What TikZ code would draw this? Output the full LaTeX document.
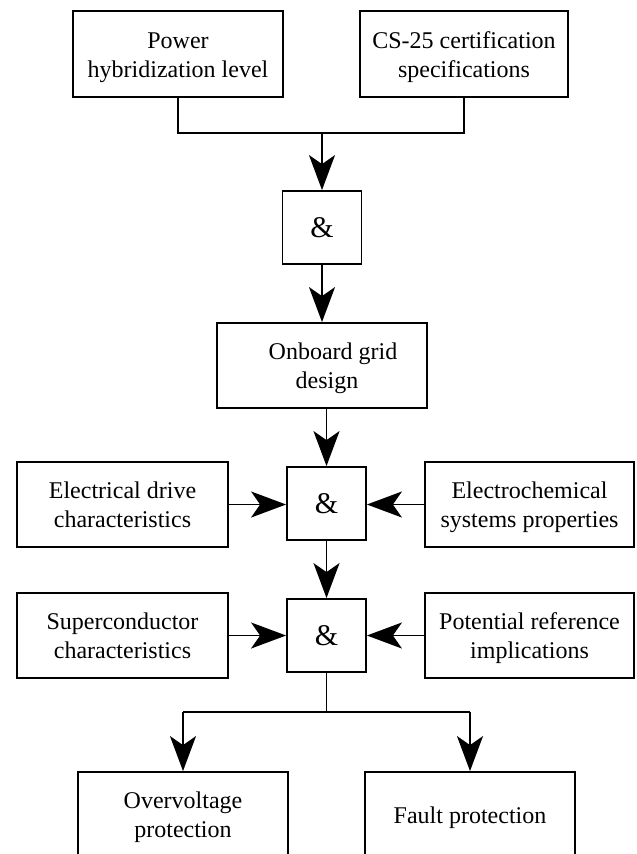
\documentclass[tikz,border=0pt]{standalone}
\usepackage{fontspec}
\setmainfont{Liberation Serif}
\usetikzlibrary{arrows.meta}
\newcommand\boxtext[1]{\raisebox{-3pt}[\height][\depth]{\begin{tabular}{@{}c@{}}#1\end{tabular}}}
\begin{document}
\begin{tikzpicture}[x=1pt,y=-1pt,
  box/.style={draw,line width=1.8pt,rectangle,inner sep=0pt,
    font=\fontsize{24}{29}\selectfont},
  andbox/.style={draw,line width=1.8pt,rectangle,inner sep=0pt,
    minimum width=79pt,minimum height=73pt,font=\fontsize{30}{32}\selectfont},
  link/.style={line width=1.8pt},
  arr/.style={line width=1.8pt,-{Stealth[length=35pt,width=26pt,inset=9pt]}}]
\useasboundingbox (0,0) rectangle (637,854);
\clip (0,0) rectangle (637,854);
% top inputs
\node[box,minimum width=210pt,minimum height=86pt] (P) at (178,54) {\boxtext{Power\\hybridization level}};
\node[box,minimum width=208pt,minimum height=86pt] (C) at (464,54) {\boxtext{CS-25 certification\\specifications}};
\coordinate (J) at (322,133);
\node[andbox] (A1) at (322,227.5) {\&};
\node[box,minimum width=210pt,minimum height=85pt] (O) at (322,365.5) {\boxtext{\hspace*{22pt}Onboard grid\\\hspace*{10pt}design}};
\node[andbox] (A2) at (326.5,503.5) {\&};
\node[box,minimum width=211pt,minimum height=85pt] (E) at (122.5,504.5) {\boxtext{Electrical drive\\characteristics}};
\node[box,minimum width=209pt,minimum height=85pt] (EC) at (529.5,504.5) {\boxtext{Electrochemical\\systems properties}};
\node[andbox] (A3) at (326.5,635.5) {\&};
\node[box,minimum width=211pt,minimum height=85pt] (S) at (122.5,635.5) {\boxtext{Superconductor\\characteristics}};
\node[box,minimum width=209pt,minimum height=85pt] (PR) at (529.5,635.5) {\boxtext{Potential reference\\implications}};
\coordinate (K) at (326.5,712);
\node[box,minimum width=210pt,minimum height=85pt] (OV) at (183,814.5) {\boxtext{Overvoltage\\protection}};
\node[box,minimum width=210pt,minimum height=85pt] (F) at (470,814.5) {\boxtext{Fault protection}};
% connectors
\draw[link] (P.south) |- (J) -| (C.south);
\draw[arr] (J) -- (A1.north);
\draw[arr] (A1.south) -- (O.north);
\draw[arr] (O.south -| A2.north) -- (A2.north);
\draw[arr] (E.east) -- (E.east -| A2.west);
\draw[arr] (EC.west) -- (EC.west -| A2.east);
\draw[arr] (A2.south) -- (A3.north);
\draw[arr] (S.east) -- (S.east -| A3.west);
\draw[arr] (PR.west) -- (PR.west -| A3.east);
\draw[link] (A3.south) -- (K);
\draw[link] (OV.north |- K) -- (F.north |- K);
\draw[arr] (OV.north |- K) -- (OV.north);
\draw[arr] (F.north |- K) -- (F.north);
\end{tikzpicture}
\end{document}
